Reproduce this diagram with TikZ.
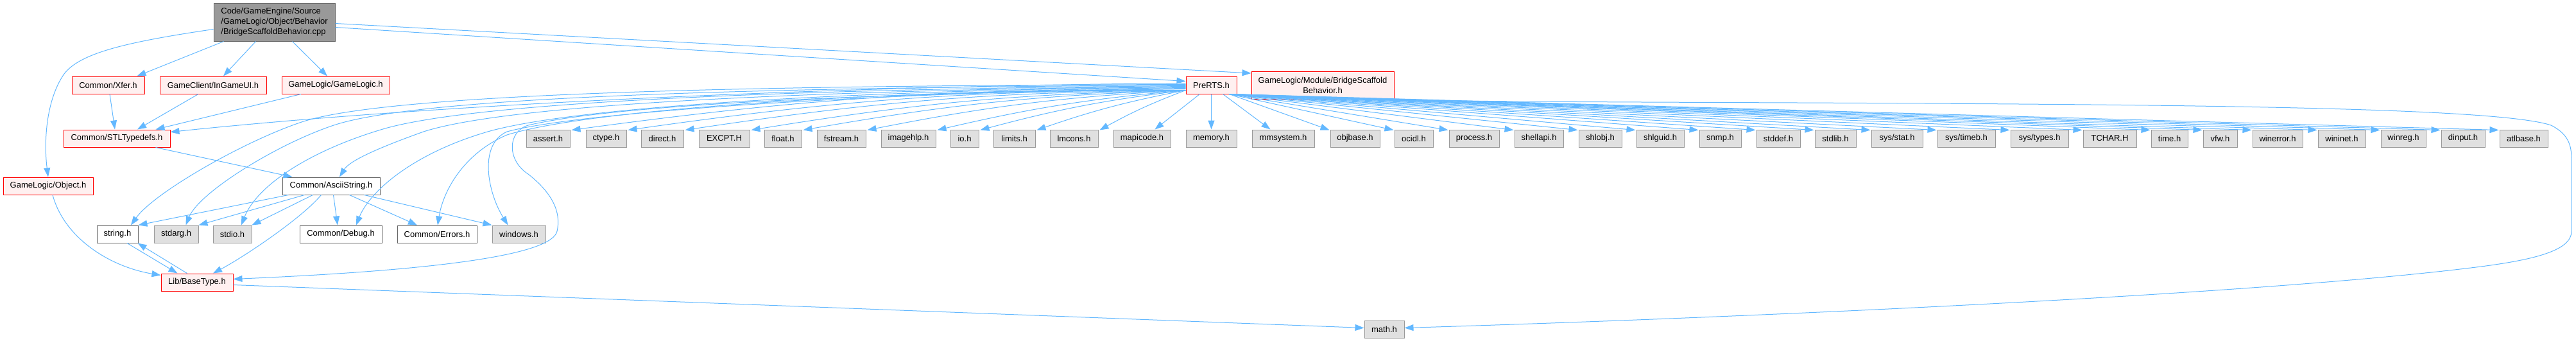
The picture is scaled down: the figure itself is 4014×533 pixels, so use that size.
\documentclass[tikz,border=0pt]{standalone}
\usepackage{fontspec}
\setmainfont{Liberation Sans}
\usetikzlibrary{arrows.meta,calc}
\definecolor{edgec}{HTML}{63B8FF}
\definecolor{gfill}{HTML}{E0E0E0}
\definecolor{gdraw}{HTML}{999999}
\definecolor{rfill}{HTML}{FFF0F0}
\definecolor{rdraw}{HTML}{FF0000}
\definecolor{wdraw}{HTML}{666666}
\definecolor{rootfill}{HTML}{999999}
\definecolor{rootdraw}{HTML}{666666}
\tikzset{
  box/.style={draw, line width=1pt, inner sep=0pt, minimum height=27pt, anchor=center,
    font=\fontsize{13}{16}\selectfont},
  sysbox/.style={box, fill=gfill, draw=gdraw},
  redbox/.style={box, fill=rfill, draw=rdraw},
  whitebox/.style={box, fill=white, draw=wdraw},
  rootbox/.style={box, fill=rootfill, draw=rootdraw, align=left},
  edge/.style={draw=edgec, line width=1pt, -{Triangle[length=14pt,width=10pt]}},
}
\begin{document}
\begin{tikzpicture}[x=1pt,y=-1pt]
\useasboundingbox (0,0) rectangle (4014,533);

% ---- nodes ----
\node[rootbox, minimum width=189pt, minimum height=59pt] (root) at (427.5,34.5)
  {Code/GameEngine/Source\\/GameLogic/Object/Behavior\\/BridgeScaffoldBehavior.cpp};

\node[redbox, minimum width=113pt] (xfer) at (168.5,132.5) {Common/Xfer.h};
\node[redbox, minimum width=166pt] (ingame) at (332,132.5) {GameClient/InGameUI.h};
\node[redbox, minimum width=168pt] (gamelogic) at (523,132.5) {GameLogic/GameLogic.h};
\node[redbox, minimum width=79pt] (pr) at (1887.5,132.5) {PreRTS.h};
\node[redbox, minimum width=222pt, minimum height=43pt, align=center] (bsb) at (2061,132.5)
  {GameLogic/Module/BridgeScaffold\\Behavior.h};

\node[redbox, minimum width=166pt] (stl) at (182,215.5) {Common/STLTypedefs.h};
\node[sysbox, minimum width=68pt] (assert) at (854,215.5) {assert.h};
\node[sysbox, minimum width=63pt] (ctype) at (944.5,215.5) {ctype.h};
\node[sysbox, minimum width=66pt] (direct) at (1032,215.5) {direct.h};
\node[sysbox, minimum width=79pt] (excpt) at (1128.5,215.5) {EXCPT.H};
\node[sysbox, minimum width=58pt] (float) at (1220,215.5) {float.h};
\node[sysbox, minimum width=76pt] (fstream) at (1311,215.5) {fstream.h};
\node[sysbox, minimum width=85pt] (imagehlp) at (1415.5,215.5) {imagehlp.h};
\node[sysbox, minimum width=44pt] (io) at (1503,215.5) {io.h};
\node[sysbox, minimum width=65pt] (limits) at (1580.5,215.5) {limits.h};
\node[sysbox, minimum width=75pt] (lmcons) at (1673.5,215.5) {lmcons.h};
\node[sysbox, minimum width=89pt] (mapicode) at (1779.5,215.5) {mapicode.h};
\node[sysbox, minimum width=79pt] (memory) at (1887.5,215.5) {memory.h};
\node[sysbox, minimum width=97pt] (mmsystem) at (1999.5,215.5) {mmsystem.h};
\node[sysbox, minimum width=77pt] (objbase) at (2111.5,215.5) {objbase.h};
\node[sysbox, minimum width=60pt] (ocidl) at (2203,215.5) {ocidl.h};
\node[sysbox, minimum width=78pt] (process) at (2297,215.5) {process.h};
\node[sysbox, minimum width=76pt] (shellapi) at (2398,215.5) {shellapi.h};
\node[sysbox, minimum width=67pt] (shlobj) at (2493.5,215.5) {shlobj.h};
\node[sysbox, minimum width=74pt] (shlguid) at (2587,215.5) {shlguid.h};
\node[sysbox, minimum width=65pt] (snmp) at (2680.5,215.5) {snmp.h};
\node[sysbox, minimum width=68pt] (stddef) at (2771,215.5) {stddef.h};
\node[sysbox, minimum width=64pt] (stdlib) at (2860,215.5) {stdlib.h};
\node[sysbox, minimum width=80pt] (sysstat) at (2956,215.5) {sys/stat.h};
\node[sysbox, minimum width=90pt] (systimeb) at (3064,215.5) {sys/timeb.h};
\node[sysbox, minimum width=90pt] (systypes) at (3178,215.5) {sys/types.h};
\node[sysbox, minimum width=83pt] (tchar) at (3287.5,215.5) {TCHAR.H};
\node[sysbox, minimum width=57pt] (time) at (3380.5,215.5) {time.h};
\node[sysbox, minimum width=53pt] (vfw) at (3459.5,215.5) {vfw.h};
\node[sysbox, minimum width=78pt] (winerror) at (3549,215.5) {winerror.h};
\node[sysbox, minimum width=74pt] (wininet) at (3649,215.5) {wininet.h};
\node[sysbox, minimum width=70pt] (winreg) at (3745,215.5) {winreg.h};
\node[sysbox, minimum width=68pt] (dinput) at (3838,215.5) {dinput.h};
\node[sysbox, minimum width=75pt] (atlbase) at (3932.5,215.5) {atlbase.h};

\node[redbox, minimum width=140pt] (object) at (75,289.5) {GameLogic/Object.h};
\node[whitebox, minimum width=152pt] (ascii) at (516,289.5) {Common/AsciiString.h};

\node[whitebox, minimum width=64pt] (string) at (183,364.5) {string.h};
\node[sysbox, minimum width=69pt] (stdarg) at (274.5,364.5) {stdarg.h};
\node[sysbox, minimum width=60pt] (stdio) at (362,364.5) {stdio.h};
\node[whitebox, minimum width=128pt] (debug) at (531,364.5) {Common/Debug.h};
\node[whitebox, minimum width=124pt] (errors) at (681,364.5) {Common/Errors.h};
\node[sysbox, minimum width=83pt] (windows) at (808.5,364.5) {windows.h};

\node[redbox, minimum width=112pt] (base) at (307,439.5) {Lib/BaseType.h};
\node[sysbox, minimum width=62pt] (math) at (2157,512.5) {math.h};

% ---- edges from root ----
\draw[edge] ($(root.west)+(0,11)$) .. controls (200,65) and (125,82) .. (100,115)
  .. controls (72,155) and (68,220) .. (object.north);
\draw[edge] ($(root.south west)+(16,0)$) -- ($(xfer.north east)+(-12,0)$);
\draw[edge] ($(root.south west)+(66,0)$) -- ($(ingame.north)+(16,0)$);
\draw[edge] ($(root.south west)+(123,0)$) -- ($(gamelogic.north)+(-13,0)$);
\draw[edge] ($(root.east)+(0,8)$) -- ($(pr.west)+(0,-6)$);
\draw[edge] ($(root.east)+(0,2)$) -- ($(bsb.west)+(0,-18.5)$);

% ---- second level ----
\draw[edge] ($(xfer.south)+(2.5,0)$) -- ($(stl.north)+(-3,0)$);
\draw[edge] ($(ingame.south)+(-23,0)$) -- ($(stl.north)+(32,0)$);
\draw[edge] ($(gamelogic.south)+(-54,0)$) -- ($(stl.north east)+(-23,0)$);
\draw[edge] ($(stl.south east)+(-23,0)$) -- ($(ascii.north west)+(16,0)$);
\draw[edge] ($(object.south)+(7,0)$) .. controls (100,370) and (170,415) .. ($(base.west)+(0,-11)$);

% ---- AsciiString ----
\draw[edge] ($(ascii.south west)+(10,0)$) -- (string.north east);
\draw[edge] ($(ascii.south west)+(35,0)$) -- (stdarg.north east);
\draw[edge] ($(ascii.south west)+(48,0)$) -- (stdio.north east);
\draw[edge] ($(ascii.south west)+(61,0)$) .. controls (470,340) and (380,400) .. ($(base.north)+(25,0)$);
\draw[edge] ($(ascii.south west)+(80,0)$) -- ($(debug.north)+(-5,0)$);
\draw[edge] ($(ascii.south west)+(105,0)$) -- ($(errors.north)+(-31,0)$);
\draw[edge] ($(ascii.south west)+(128,0)$) -- (windows.north west);

% ---- string / BaseType ----
\draw[edge] ($(string.south)+(15,0)$) -- ($(base.north west)+(26,0)$);
\draw[edge] ($(base.north west)+(41,0)$) -- ($(string.south east)+(-1,0)$);
\draw[edge] ($(base.east)+(0,4)$) -- ($(math.west)+(0,-2)$);

% ---- PreRTS to cluster on the left ----
\draw[edge] ($(pr.west)+(0,-3)$) .. controls (1500,132) and (800,150) .. ($(stl.east)+(0,-10)$);
\draw[edge] ($(pr.west)+(0,-1)$) .. controls (1300,133) and (620,140) .. (470,190)
  .. controls (380,220) and (240,300) .. ($(string.north)+(21,0)$);
\draw[edge] ($(pr.west)+(0,0)$) .. controls (1300,136) and (670,145) .. (520,195)
  .. controls (430,225) and (310,300) .. ($(stdarg.north)+(15,0)$);
\draw[edge] ($(pr.west)+(0,1)$) .. controls (1300,138) and (760,155) .. (600,200)
  .. controls (480,235) and (400,290) .. ($(stdio.north)+(14,0)$);
\draw[edge] ($(pr.west)+(0,2)$) .. controls (1300,140) and (800,160) .. (660,205)
  .. controls (590,230) and (545,250) .. ($(ascii.north)+(13,0)$);
\draw[edge] ($(pr.west)+(0,3)$) .. controls (1350,140) and (900,165) .. (760,205)
  .. controls (640,240) and (575,300) .. ($(debug.north)+(24,0)$);
\draw[edge] ($(pr.west)+(0,4)$) .. controls (1350,142) and (920,170) .. (790,210)
  .. controls (720,240) and (690,300) .. ($(errors.north)+(1,0)$);
\draw[edge] ($(pr.west)+(0,5)$) .. controls (1350,144) and (900,175) .. (790,205)
  .. controls (745,225) and (760,300) .. ($(windows.north)+(-17,0)$);
\draw[edge] ($(pr.west)+(0,6)$) .. controls (1300,146) and (950,165) .. (823,195)
  .. controls (790,205) and (790,250) .. (823,271)
  .. controls (860,300) and (875,330) .. (868,360)
  .. controls (860,395) and (700,420) .. ($(base.east)+(0,-5)$);

% ---- PreRTS to system headers on the left ----
\foreach \t in {assert,ctype,direct,excpt,float,fstream,imagehlp,io,limits,lmcons}
  \draw[edge] ($(pr.west)+(0,8)$) to[bend right=4] ($(\t.north east)+(2,1)$);
\draw[edge] ($(pr.south west)+(22,0)$) -- ($(mapicode.north)+(20,0)$);
\draw[edge] (pr.south) -- (memory.north);
\draw[edge] ($(pr.south east)+(-22,0)$) -- ($(mmsystem.north)+(-20,0)$);

% ---- PreRTS to system headers on the right ----
\foreach \t in {objbase,ocidl,process,shellapi,shlobj,shlguid,snmp,stddef,stdlib,sysstat,
  systimeb,systypes,tchar,time,vfw,winerror,wininet,winreg,dinput,atlbase}
  \draw[edge] ($(pr.south east)+(-12,0)$) -- ($(\t.north west)+(-1,1)$);

% ---- PreRTS to math.h around the right ----
\draw[edge] ($(pr.south east)+(-3,0)$) .. controls (2100,160) and (2500,158) .. (3000,161)
  .. controls (3500,164) and (3900,170) .. (3975,195)
  .. controls (4005,210) and (4007,230) .. (4007,250) -- (4007,360)
  .. controls (4007,390) and (3950,405) .. (3850,417)
  .. controls (3500,460) and (2700,495) .. ($(math.east)+(0,-2)$);
\end{tikzpicture}
\end{document}
